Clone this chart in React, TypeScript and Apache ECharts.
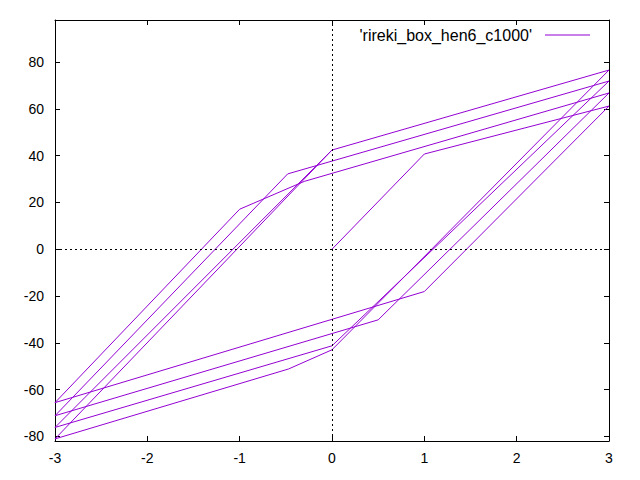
import React, { useEffect, useRef } from "react";
import * as echarts from "echarts";

// Hysteresis path (displacement, force)
const xs: number[] = [0, 1, 3, 1, -3, -1, -0.3, 3, 0.5, -3, -0.48, 3, 0, -3, 0, 3, 0, -0.47, -3, 0];
const ys: number[] = [0, 40.7, 61.2, -18.1, -65.6, 17.1, 29, 66.8, -30.2, -71.2, 32.2, 71.9, -41.3, -76.2, 42.4, 76.6, -43, -51.2, -81.1, 42.4];
const seriesName = "'rireki_box_hen6_c1000'";
const xTicks: number[] = [-3, -2, -1, 0, 1, 2, 3];
const yTicks: number[] = [-80, -60, -40, -20, 0, 20, 40, 60, 80];

const FONT = "Liberation Sans, Arial, sans-serif";

export default function App() {
  const ref = useRef<HTMLDivElement>(null);
  useEffect(() => {
    if (!ref.current) return;
    const chart = echarts.init(ref.current, null, { renderer: "svg" });
    const data = xs.map((x, i) => [x, ys[i]]);
    const axisLine = { show: true, onZero: false, lineStyle: { color: "#000", width: 1 } };
    const xMin = -3, xMax = 3, yMin = -82, yMax = 98;
    chart.setOption({
      animation: false,
      backgroundColor: "#fff",
      grid: { left: 55, right: 31, top: 20, bottom: 39 },
      legend: {
        show: true,
        right: 45,
        top: 22,
        align: "right",
        icon: "rect",
        itemWidth: 45,
        itemHeight: 1,
        itemStyle: { color: "#9400d3" },
        textStyle: { fontFamily: FONT, fontSize: 16, color: "#000", padding: [0, 8, 0, 0] },
        data: [seriesName],
      },
      xAxis: [
        {
          type: "value", min: xMin, max: xMax, interval: 1, position: "bottom",
          axisLine,
          splitLine: { show: false },
          axisTick: { show: true, inside: true, length: 5, lineStyle: { color: "#000" }, customValues: xTicks },
          axisLabel: { show: true, margin: 10, color: "#000", fontFamily: FONT, fontSize: 14, customValues: xTicks },
        },
        {
          type: "value", min: xMin, max: xMax, interval: 1, position: "top",
          axisLine,
          splitLine: { show: false },
          axisTick: { show: true, inside: true, length: 5, lineStyle: { color: "#000" }, customValues: xTicks },
          axisLabel: { show: false },
        },
      ],
      yAxis: [
        {
          type: "value", min: yMin, max: yMax, position: "left",
          axisLine,
          splitLine: { show: false },
          axisTick: { show: true, inside: true, length: 5, lineStyle: { color: "#000" }, customValues: yTicks },
          axisLabel: { show: true, margin: 11, color: "#000", fontFamily: FONT, fontSize: 14, customValues: yTicks },
        },
        {
          type: "value", min: yMin, max: yMax, position: "right",
          axisLine,
          splitLine: { show: false },
          axisTick: { show: true, inside: true, length: 5, lineStyle: { color: "#000" }, customValues: yTicks },
          axisLabel: { show: false },
        },
      ],
      series: [
        {
          name: seriesName,
          type: "line",
          xAxisIndex: 0,
          yAxisIndex: 0,
          data,
          showSymbol: false,
          symbol: "none",
          lineStyle: { color: "#9400d3", width: 1 },
          itemStyle: { color: "#9400d3" },
          z: 3,
          markLine: {
            silent: true,
            symbol: ["none", "none"],
            label: { show: false },
            lineStyle: { color: "#000", width: 1, type: [2, 3] },
            emphasis: { disabled: true },
            data: [{ xAxis: 0 }, { yAxis: 0 }],
          },
        },
      ],
    });
    return () => chart.dispose();
  }, []);
  return (
    <div
      ref={ref}
      style={{ position: "fixed", left: 0, top: 0, width: 640, height: 480, background: "#fff" }}
    />
  );
}
